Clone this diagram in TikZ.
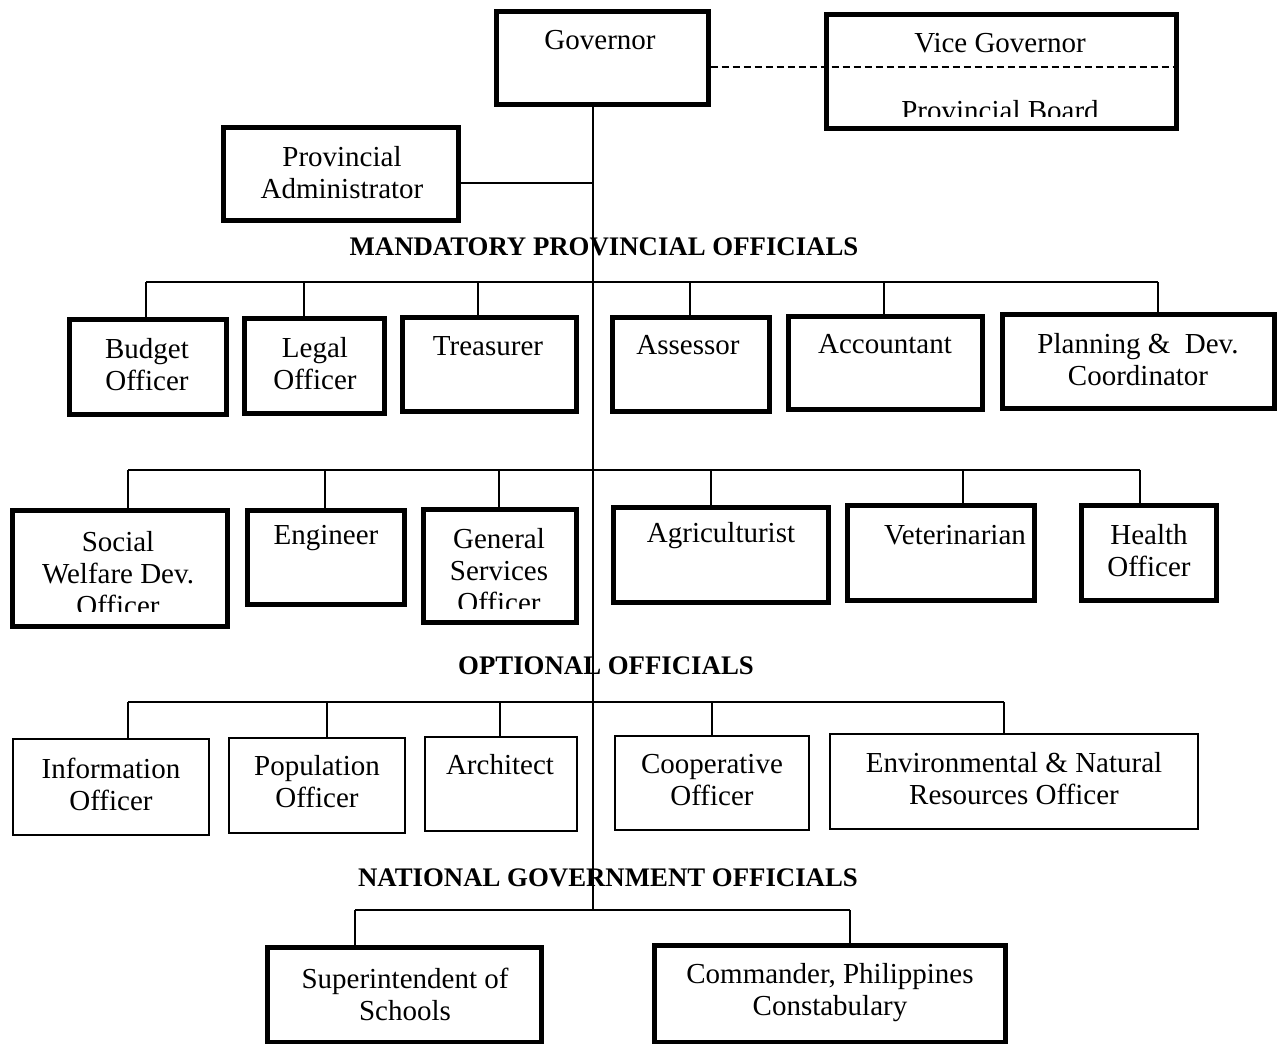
\documentclass[tikz,border=0pt]{standalone}
\usepackage{fontspec}
\setmainfont{Liberation Serif}
\newcommand\orgbox[6]{\node[#2, minimum width={(#5-#3)*0.5pt}, minimum height={(#6-#4)*0.5pt}] (#1) at ({(#3+#5)/2},{(#4+#6)/2}) {};}
\begin{document}
\begin{tikzpicture}[x=0.5pt,y=-0.5pt,
 thickbox/.style={draw, line width=2.5pt, inner sep=0pt},
 thinbox/.style={draw, line width=1pt, inner sep=0pt},
 lbl/.style={align=center, font=\fontsize{14.5}{16}\selectfont, inner sep=0pt},
 hdr/.style={font=\fontsize{13.4}{15}\selectfont\bfseries, inner sep=0pt},
 conn/.style={line width=0.9pt},
 vgline/.style={line width=1.3pt, dash pattern=on 3.5pt off 2pt}
]
\useasboundingbox (0,0) rectangle (1280,1044);

% boxes
\orgbox{gov}{thickbox}{496}{11}{708}{104}
\orgbox{vg}{thickbox}{826}{14}{1176}{128}
\orgbox{pa}{thickbox}{223}{127}{458}{220}
\orgbox{bud}{thickbox}{69}{319}{226}{414}
\orgbox{leg}{thickbox}{244}{318}{384}{413}
\orgbox{tre}{thickbox}{402}{317}{576}{411}
\orgbox{ass}{thickbox}{612}{317}{769}{411}
\orgbox{acc}{thickbox}{788}{316}{982}{409}
\orgbox{pla}{thickbox}{1002}{314}{1274}{408}
\orgbox{sw}{thickbox}{12}{510}{227}{626}
\orgbox{eng}{thickbox}{247}{510}{404}{604}
\orgbox{gs}{thickbox}{423}{509}{576}{622}
\orgbox{agr}{thickbox}{613}{507}{828}{602}
\orgbox{vet}{thickbox}{847}{505}{1034}{600}
\orgbox{hea}{thickbox}{1081}{505}{1216}{600}
\orgbox{inf}{thinbox}{13}{739}{209}{835}
\orgbox{pop}{thinbox}{229}{738}{405}{833}
\orgbox{arc}{thinbox}{425}{737}{577}{831}
\orgbox{coo}{thinbox}{615}{736}{809}{830}
\orgbox{env}{thinbox}{830}{734}{1198}{829}
\orgbox{sup}{thickbox}{267}{947}{541}{1042}
\orgbox{com}{thickbox}{654}{945}{1005}{1042}

% labels
\node[lbl] (govt) at (600,40) {Governor};
\node[lbl] (vgt) at (1000,43) {Vice Governor};
\begin{scope}
\clip (826,80) rectangle (1176,116);
\node[lbl] (pbt) at (1000,111) {Provincial Board};
\end{scope}
\node[lbl] (pat) at (342,173) {Provincial\\Administrator};
\node[lbl] (budt) at (147,365) {Budget\\Officer};
\node[lbl] (legt) at (315,364) {Legal\\Officer};
\node[lbl] (tret) at (488,346) {Treasurer};
\node[lbl] (asst) at (688,345) {Assessor};
\node[lbl] (acct) at (885,344) {Accountant};
\node[lbl] (plat) at (1138,360) {Planning \&\ \ Dev.\\Coordinator};
\begin{scope}
\clip (12,520) rectangle (227,611);
\node[lbl] (swt) at (118,574) {Social\\Welfare Dev.\\Officer};
\end{scope}
\node[lbl] (engt) at (326,538) {Engineer};
\begin{scope}
\clip (423,520) rectangle (576,608);
\node[lbl] (gst) at (499,571) {General\\Services\\Officer};
\end{scope}
\node[lbl] (agrt) at (721,536) {Agriculturist};
\node[lbl] (vett) at (955,535) {Veterinarian};
\node[lbl] (heat) at (1149,551) {Health\\Officer};
\node[lbl] (inft) at (111,784) {Information\\Officer};
\node[lbl] (popt) at (317,782) {Population\\Officer};
\node[lbl] (arct) at (500,765) {Architect};
\node[lbl] (coot) at (712,780) {Cooperative\\Officer};
\node[lbl] (envt) at (1014,779) {Environmental \&\ Natural\\Resources Officer};
\node[lbl] (supt) at (405,994) {Superintendent of\\Schools};
\node[lbl] (comt) at (830,993) {Commander, Philippines\\Constabulary};

% headers
\node[hdr] (h1) at (604,247) {MANDATORY PROVINCIAL OFFICIALS};
\node[hdr] (h2) at (606,666) {OPTIONAL OFFICIALS};
\node[hdr] (h3) at (608,878) {NATIONAL GOVERNMENT OFFICIALS};

% bus coordinates
\coordinate (trk) at (593,910);
\coordinate (b1l) at (146,282);  \coordinate (b1r) at (1158,282);
\coordinate (b2l) at (128,470);  \coordinate (b2r) at (1140,470);
\coordinate (b3l) at (128,702);  \coordinate (b3r) at (1004,702);
\coordinate (b4l) at (355,910);  \coordinate (b4r) at (850,910);
\coordinate (d1a) at (146,282); \coordinate (d1b) at (304,282); \coordinate (d1c) at (478,282);
\coordinate (d1d) at (690,282); \coordinate (d1e) at (884,282); \coordinate (d1f) at (1158,282);
\coordinate (d2a) at (128,470); \coordinate (d2b) at (325,470); \coordinate (d2c) at (499,470);
\coordinate (d2d) at (711,470); \coordinate (d2e) at (963,470); \coordinate (d2f) at (1140,470);
\coordinate (d3a) at (128,702); \coordinate (d3b) at (327,702); \coordinate (d3c) at (500,702);
\coordinate (d3d) at (712,702); \coordinate (d3e) at (1004,702);
\coordinate (d4a) at (355,910); \coordinate (d4b) at (850,910);

% connectors
\draw[vgline] (gov.east |- 0,67) -- (vg.east |- 0,67);
\draw[conn] (gov.south -| trk) -- (trk);
\draw[conn] (pa.east |- 0,183) -- (trk |- 0,183);
\draw[conn] (b1l) -- (b1r);
\draw[conn] (b2l) -- (b2r);
\draw[conn] (b3l) -- (b3r);
\draw[conn] (b4l) -- (b4r);
\draw[conn] (d1a) -- (bud.north -| d1a);
\draw[conn] (d1b) -- (leg.north -| d1b);
\draw[conn] (d1c) -- (tre.north -| d1c);
\draw[conn] (d1d) -- (ass.north -| d1d);
\draw[conn] (d1e) -- (acc.north -| d1e);
\draw[conn] (d1f) -- (pla.north -| d1f);
\draw[conn] (d2a) -- (sw.north -| d2a);
\draw[conn] (d2b) -- (eng.north -| d2b);
\draw[conn] (d2c) -- (gs.north -| d2c);
\draw[conn] (d2d) -- (agr.north -| d2d);
\draw[conn] (d2e) -- (vet.north -| d2e);
\draw[conn] (d2f) -- (hea.north -| d2f);
\draw[conn] (d3a) -- (inf.north -| d3a);
\draw[conn] (d3b) -- (pop.north -| d3b);
\draw[conn] (d3c) -- (arc.north -| d3c);
\draw[conn] (d3d) -- (coo.north -| d3d);
\draw[conn] (d3e) -- (env.north -| d3e);
\draw[conn] (d4a) -- (sup.north -| d4a);
\draw[conn] (d4b) -- (com.north -| d4b);
\end{tikzpicture}
\end{document}
